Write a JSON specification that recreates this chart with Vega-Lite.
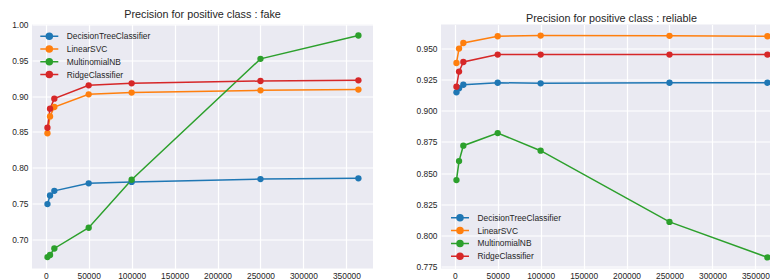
{
  "$schema": "https://vega.github.io/schema/vega-lite/v6.json",
  "padding": {"left": 11, "top": 8.5, "right": 0, "bottom": 0},
  "background": "white",
  "spacing": 43,
  "config": {
    "font": "Liberation Sans",
    "view": {"fill": "#EAEAF2", "stroke": null},
    "axis": {
      "domain": false, "ticks": false, "grid": true, "gridColor": "white", "gridWidth": 1.2,
      "labelFont": "Liberation Sans", "labelFontSize": 8.4, "labelColor": "#262626", "labelPadding": 4, "title": null
    },
    "axisX": {"labelPadding": 3},
    "title": {"font": "Liberation Sans", "fontSize": 10.8, "fontWeight": "normal", "color": "#262626", "offset": 1, "baseline": "alphabetic", "frame": "group"},
    "legend": {
      "orient": "none", "title": null, "padding": 0, "labelFont": "Liberation Sans", "labelFontSize": 8.4, "labelColor": "#262626",
      "symbolType": "M-1.8,0H1.8M0.6,0A0.6,0.6 0 1,1 -0.6,0A0.6,0.6 0 1,1 0.6,0M0.3,0A0.3,0.3 0 1,1 -0.3,0A0.3,0.3 0 1,1 0.3,0M0.08,0A0.08,0.08 0 1,1 -0.08,0A0.08,0.08 0 1,1 0.08,0",
      "symbolSize": 100, "symbolStrokeWidth": 1.5, "labelOffset": 11.5, "rowPadding": 0.8
    }
  },
  "datasets": {
    "fake": [
      {"clf": "DecisionTreeClassifier", "n": 2000, "p": 0.749},
      {"clf": "DecisionTreeClassifier", "n": 5000, "p": 0.761},
      {"clf": "DecisionTreeClassifier", "n": 10000, "p": 0.7675},
      {"clf": "DecisionTreeClassifier", "n": 50000, "p": 0.778},
      {"clf": "DecisionTreeClassifier", "n": 100000, "p": 0.780},
      {"clf": "DecisionTreeClassifier", "n": 250000, "p": 0.784},
      {"clf": "DecisionTreeClassifier", "n": 364000, "p": 0.785},
      {"clf": "LinearSVC", "n": 2000, "p": 0.848},
      {"clf": "LinearSVC", "n": 5000, "p": 0.8716},
      {"clf": "LinearSVC", "n": 10000, "p": 0.8847},
      {"clf": "LinearSVC", "n": 50000, "p": 0.9024},
      {"clf": "LinearSVC", "n": 100000, "p": 0.9048},
      {"clf": "LinearSVC", "n": 250000, "p": 0.908},
      {"clf": "LinearSVC", "n": 364000, "p": 0.909},
      {"clf": "MultinomialNB", "n": 2000, "p": 0.675},
      {"clf": "MultinomialNB", "n": 5000, "p": 0.678},
      {"clf": "MultinomialNB", "n": 10000, "p": 0.687},
      {"clf": "MultinomialNB", "n": 50000, "p": 0.716},
      {"clf": "MultinomialNB", "n": 100000, "p": 0.783},
      {"clf": "MultinomialNB", "n": 250000, "p": 0.952},
      {"clf": "MultinomialNB", "n": 364000, "p": 0.9846},
      {"clf": "RidgeClassifier", "n": 2000, "p": 0.8557},
      {"clf": "RidgeClassifier", "n": 5000, "p": 0.8824},
      {"clf": "RidgeClassifier", "n": 10000, "p": 0.8964},
      {"clf": "RidgeClassifier", "n": 50000, "p": 0.915},
      {"clf": "RidgeClassifier", "n": 100000, "p": 0.9178},
      {"clf": "RidgeClassifier", "n": 250000, "p": 0.921},
      {"clf": "RidgeClassifier", "n": 364000, "p": 0.922}
    ],
    "reliable": [
      {"clf": "DecisionTreeClassifier", "n": 2000, "p": 0.9147},
      {"clf": "DecisionTreeClassifier", "n": 5000, "p": 0.918},
      {"clf": "DecisionTreeClassifier", "n": 10000, "p": 0.9208},
      {"clf": "DecisionTreeClassifier", "n": 50000, "p": 0.9224},
      {"clf": "DecisionTreeClassifier", "n": 100000, "p": 0.9219},
      {"clf": "DecisionTreeClassifier", "n": 250000, "p": 0.9224},
      {"clf": "DecisionTreeClassifier", "n": 364000, "p": 0.9224},
      {"clf": "LinearSVC", "n": 2000, "p": 0.9382},
      {"clf": "LinearSVC", "n": 5000, "p": 0.9497},
      {"clf": "LinearSVC", "n": 10000, "p": 0.9542},
      {"clf": "LinearSVC", "n": 50000, "p": 0.9596},
      {"clf": "LinearSVC", "n": 100000, "p": 0.9601},
      {"clf": "LinearSVC", "n": 250000, "p": 0.9599},
      {"clf": "LinearSVC", "n": 364000, "p": 0.9596},
      {"clf": "MultinomialNB", "n": 2000, "p": 0.8445},
      {"clf": "MultinomialNB", "n": 5000, "p": 0.8597},
      {"clf": "MultinomialNB", "n": 10000, "p": 0.872},
      {"clf": "MultinomialNB", "n": 50000, "p": 0.8821},
      {"clf": "MultinomialNB", "n": 100000, "p": 0.868},
      {"clf": "MultinomialNB", "n": 250000, "p": 0.811},
      {"clf": "MultinomialNB", "n": 364000, "p": 0.7826},
      {"clf": "RidgeClassifier", "n": 2000, "p": 0.9192},
      {"clf": "RidgeClassifier", "n": 5000, "p": 0.9313},
      {"clf": "RidgeClassifier", "n": 10000, "p": 0.939},
      {"clf": "RidgeClassifier", "n": 50000, "p": 0.9449},
      {"clf": "RidgeClassifier", "n": 100000, "p": 0.9449},
      {"clf": "RidgeClassifier", "n": 250000, "p": 0.9449},
      {"clf": "RidgeClassifier", "n": 364000, "p": 0.9449}
    ]
  },
  "resolve": {"legend": {"color": "independent"}, "scale": {"x": "independent", "y": "independent"}},
  "hconcat": [
    {
      "width": 341, "height": 244,
      "title": {"text": "Precision for positive class : fake"},
      "data": {"name": "fake"},
      "mark": {"type": "line", "strokeWidth": 1.5, "point": {"filled": true, "size": 40, "opacity": 1}},
      "encoding": {
        "x": {"field": "n", "type": "quantitative", "scale": {"domain": [-16000, 381000], "nice": false, "zero": false},
              "axis": {"values": [0, 50000, 100000, 150000, 200000, 250000, 300000, 350000], "format": "d"}},
        "y": {"field": "p", "type": "quantitative", "scale": {"domain": [0.659, 1.0], "nice": false, "zero": false},
              "axis": {"values": [0.70, 0.75, 0.80, 0.85, 0.90, 0.95, 1.00], "format": ".2f"}},
        "color": {"field": "clf", "type": "nominal",
                  "scale": {"domain": ["DecisionTreeClassifier", "LinearSVC", "MultinomialNB", "RidgeClassifier"], "range": ["#1f77b4", "#ff7f0e", "#2ca02c", "#d62728"]},
                  "legend": {"legendX": 11.3, "legendY": 5.7}}
      }
    },
    {
      "width": 329, "height": 244,
      "title": {"text": "Precision for positive class : reliable", "dx": 6},
      "data": {"name": "reliable"},
      "mark": {"type": "line", "strokeWidth": 1.5, "point": {"filled": true, "size": 40, "opacity": 1}},
      "encoding": {
        "x": {"field": "n", "type": "quantitative", "scale": {"domain": [-16000, 367000], "nice": false, "zero": false},
              "axis": {"values": [0, 50000, 100000, 150000, 200000, 250000, 300000, 350000], "format": "d"}},
        "y": {"field": "p", "type": "quantitative", "scale": {"domain": [0.7737, 0.969], "nice": false, "zero": false},
              "axis": {"values": [0.775, 0.8, 0.825, 0.85, 0.875, 0.9, 0.925, 0.95], "format": ".3f"}},
        "color": {"field": "clf", "type": "nominal",
                  "scale": {"domain": ["DecisionTreeClassifier", "LinearSVC", "MultinomialNB", "RidgeClassifier"], "range": ["#1f77b4", "#ff7f0e", "#2ca02c", "#d62728"]},
                  "legend": {"legendX": 13, "legendY": 187.3}}
      }
    }
  ]
}
